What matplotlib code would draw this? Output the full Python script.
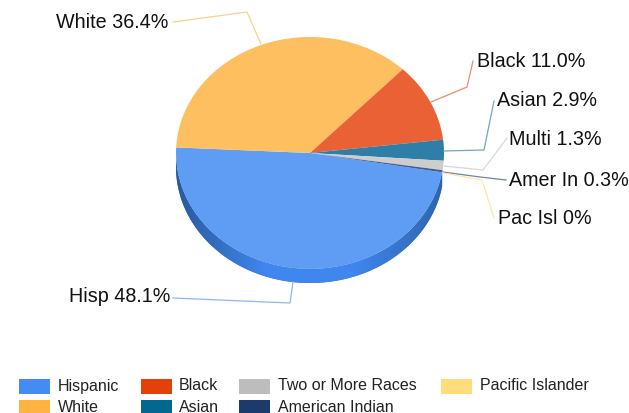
import numpy as np
import matplotlib
matplotlib.use("Agg")
import matplotlib.pyplot as plt
from matplotlib.colors import LinearSegmentedColormap
from matplotlib.patches import Polygon, Rectangle

plt.rcParams['font.family'] = ['Liberation Sans', 'DejaVu Sans']

# data
groups = ["Hispanic", "White", "Black", "Asian", "Two or More Races", "American Indian", "Pacific Islander"]
short_names = ["Hisp", "White", "Black", "Asian", "Multi", "Amer In", "Pac Isl"]
shares = [48.1, 36.4, 11.0, 2.9, 1.3, 0.3, 0.0]

# colours
top_colors = ["#5e9df3", "#fdbf60", "#e96135", "#2e7ea8", "#cdcdcd", "#3f5f8f", "#ffe08a"]
side_colors = ["#3a70c4", "#c98a2a", "#b03a10", "#055273", "#909090", "#14305a", "#d0b060"]
legend_colors = ["#428cf4", "#ffb340", "#e2420a", "#03688f", "#bdbdbd", "#1c3b6b", "#ffdd7a"]
line_colors = ["#8ab8f5", "#fdd08a", "#ee8a6a", "#6fa8c4", "#d8d8d8", "#6c84aa", "#ffe7a6"]

# layout in pixels
W, H = 629, 413
cx, cy, rx, ry, depth = 310, 153, 134, 116, 14
start_angle = -9.6

# leader line per group: slice end, elbow, label end
leaders = [
    [(293, 282), (290, 303), (173, 298)],
    [(261, 44), (247, 12), (173, 22)],
    [(431, 102), (467, 87), (473, 61)],
    [(444, 151), (484, 150), (494, 101)],
    [(444, 166), (483, 170), (507, 138)],
    [(443, 172), (480, 177), (506, 180)],
    [(443, 173), (482, 180), (494, 218)],
]
label_pos = [(170, 297, "right"), (168, 22, "right"), (477, 61.5, "left"), (497, 101, "left"),
             (509, 139.5, "left"), (509, 180, "left"), (498, 219, "left")]

# legend swatch x, text x, row y
legend_pos = [(19, 58, 379), (19, 58, 400), (141, 179, 379), (141, 179, 400),
              (239, 278, 379), (239, 278, 400), (441, 480, 379)]

fig = plt.figure(figsize=(W / 100, H / 100), dpi=100)

# pie axes, data units are pie radii so the circle gets squashed to an ellipse
ax = fig.add_axes([0, 0, 1, 1])
wedges, _ = ax.pie(shares, colors=top_colors, startangle=start_angle, counterclock=False, radius=1)
for w in wedges:
    w.set_zorder(3)
    w.set_edgecolor("none")

# side of the pie, only the lower half of the rim shows
d = depth / ry
angle = start_angle
for share, col in zip(shares, side_colors):
    end = angle - share * 3.6
    a0, a1 = min(angle, 0), max(end, -180)
    if a0 > a1:
        t = np.radians(np.linspace(a0, a1, 120))
        xs = np.cos(t)
        ys = np.sin(t)
        pts = np.r_[np.c_[xs, ys], np.c_[xs[::-1], ys[::-1] - d]]
        poly = Polygon(pts, closed=True, facecolor=col, edgecolor="none", zorder=2)
        ax.add_patch(poly)
        if share == shares[0]:
            # Hispanic side has a horizontal shading
            cmap = LinearSegmentedColormap.from_list("rim", ["#2a5a9c", "#3f86ef", "#3f86ef", "#2f64ac"])
            im = ax.imshow(np.linspace(0, 1, 256)[None, :], cmap=cmap, extent=(-1, 1, -1.3, 0.2),
                           aspect="auto", zorder=2.5)
            im.set_clip_path(poly)
    angle = end

ax.set_aspect("auto")
ax.set_xlim(-cx / rx, (W - cx) / rx)
ax.set_ylim((cy - H) / ry, cy / ry)
ax.set_axis_off()

# overlay in image pixels for leaders, labels and legend
ov = fig.add_axes([0, 0, 1, 1], facecolor="none")
ov.set_xlim(0, W)
ov.set_ylim(H, 0)
ov.set_axis_off()

for i, name in enumerate(short_names):
    xs, ys = zip(*leaders[i])
    ov.plot(xs, ys, color=line_colors[i], lw=0.9)
    x, y, ha = label_pos[i]
    txt = f"{shares[i]:.1f}%" if shares[i] else "0%"
    ov.text(x, y, f"{name} {txt}", ha=ha, va="center", fontsize=14.2, color="#111111")

for g, col, (sx, tx, y) in zip(groups, legend_colors, legend_pos):
    ov.add_patch(Rectangle((sx, y), 31, 15, facecolor=col, edgecolor="none"))
    ov.text(tx, y + 7, g, ha="left", va="center", fontsize=11.5, color="#222222")

fig.savefig("out.png", dpi=100)
